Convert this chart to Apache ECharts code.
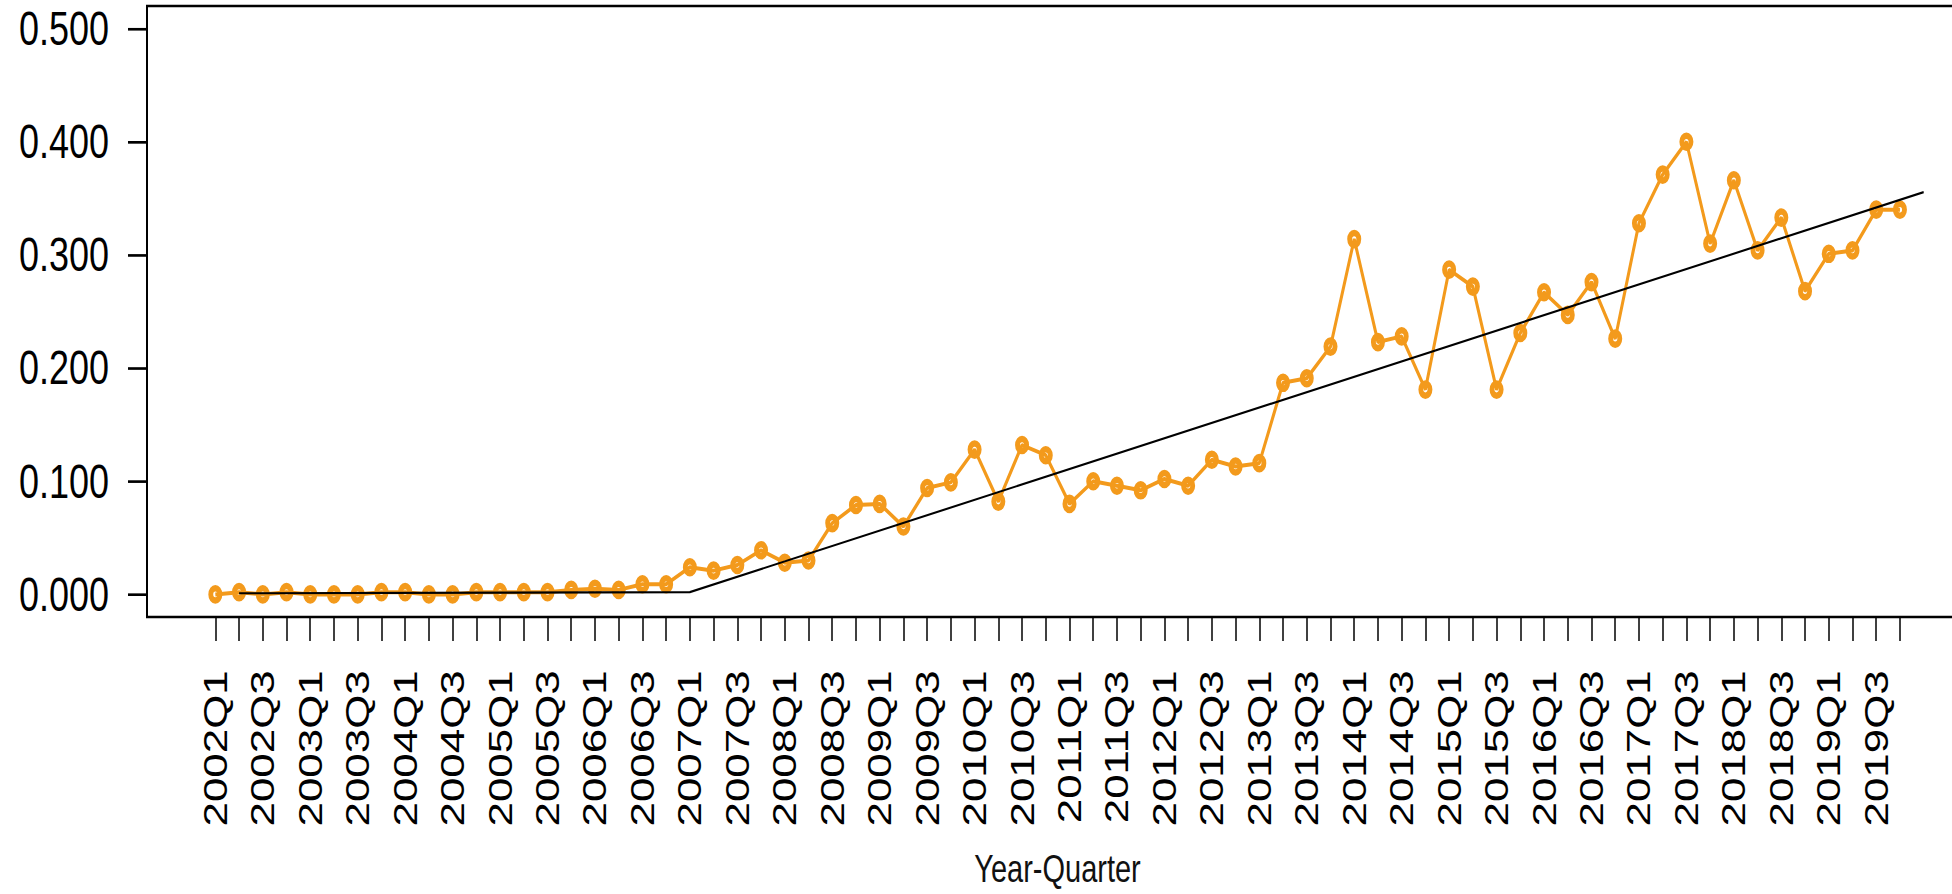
<!DOCTYPE html>
<html>
<head>
<meta charset="utf-8">
<title>Year-Quarter series</title>
<script src="https://cdn.jsdelivr.net/npm/echarts@6/dist/echarts.min.js"></script>
<style>
  html, body { margin: 0; padding: 0; background: #fff; overflow: hidden; }
  /* the plot is laid out on a shorter canvas and stretched vertically */
  #wrap { position: absolute; left: 0; top: 0; width: 1952px; height: 672px;
          transform: scaleY(1.3304); transform-origin: 0 0; }
  #chart { width: 1952px; height: 672px; }
</style>
</head>
<body>
<div id="wrap"><div id="chart"></div></div>
<script>
// Quarter labels, 2002Q1 .. 2019Q4
const quarters = [
  '2002Q1','2002Q2','2002Q3','2002Q4','2003Q1','2003Q2','2003Q3','2003Q4',
  '2004Q1','2004Q2','2004Q3','2004Q4','2005Q1','2005Q2','2005Q3','2005Q4',
  '2006Q1','2006Q2','2006Q3','2006Q4','2007Q1','2007Q2','2007Q3','2007Q4',
  '2008Q1','2008Q2','2008Q3','2008Q4','2009Q1','2009Q2','2009Q3','2009Q4',
  '2010Q1','2010Q2','2010Q3','2010Q4','2011Q1','2011Q2','2011Q3','2011Q4',
  '2012Q1','2012Q2','2012Q3','2012Q4','2013Q1','2013Q2','2013Q3','2013Q4',
  '2014Q1','2014Q2','2014Q3','2014Q4','2015Q1','2015Q2','2015Q3','2015Q4',
  '2016Q1','2016Q2','2016Q3','2016Q4','2017Q1','2017Q2','2017Q3','2017Q4',
  '2018Q1','2018Q2','2018Q3','2018Q4','2019Q1','2019Q2','2019Q3','2019Q4'
];

// Observed quarterly values
const values = [
  0.000, 0.002, 0.000, 0.002, 0.000, 0.000, 0.000, 0.002,
  0.002, 0.000, 0.000, 0.002, 0.002, 0.002, 0.002, 0.004,
  0.005, 0.004, 0.009, 0.009, 0.024, 0.021, 0.026, 0.039,
  0.028, 0.030, 0.063, 0.079, 0.080, 0.060, 0.094, 0.099,
  0.128, 0.082, 0.132, 0.123, 0.080, 0.100, 0.096, 0.092,
  0.102, 0.096, 0.119, 0.113, 0.116, 0.187, 0.191, 0.219,
  0.314, 0.223, 0.228, 0.181, 0.287, 0.272, 0.181, 0.231,
  0.267, 0.247, 0.276, 0.226, 0.328, 0.371, 0.400, 0.310,
  0.366, 0.304, 0.333, 0.268, 0.301, 0.304, 0.340, 0.340
];

// Fitted piecewise trend: breakpoints (quarter index, value)
const trendX = [1, 20, 72];
const trendY = [0.001, 0.002, 0.3555];

// Axis ticks and labels
const yTicks = [0, 0.1, 0.2, 0.3, 0.4, 0.5];
const xTickIdx = quarters.map((q, i) => i);
const xLabelIdx = xTickIdx.filter(i => i % 2 === 0);

const FONT = "'Liberation Sans', Arial, Helvetica, sans-serif";
const ORANGE = '#F39A1C';
// thick ring marker with a small open centre
const RING = 'path://M0,-10A10,10 0 1,1 0,10A10,10 0 1,1 0,-10Z' +
             'M0,-3A3,3 0 1,0 0,3A3,3 0 1,0 0,-3Z';

const chart = echarts.init(document.getElementById('chart'), null, { renderer: 'svg' });

chart.setOption({
  animation: false,
  backgroundColor: '#fff',
  grid: {
    left: 147, top: 4.5, width: 1845, height: 459.3,
    outerBoundsMode: 'none',
    containLabel: false,
    show: true, borderColor: '#000', borderWidth: 2, backgroundColor: 'transparent'
  },
  xAxis: {
    type: 'value',
    min: -2.88, max: 74.88,
    axisLine: { show: false, onZero: false },
    splitLine: { show: false },
    axisTick: {
      show: true, customValues: xTickIdx, length: 18,
      lineStyle: { color: '#000', width: 1.5 }
    },
    axisLabel: {
      customValues: xLabelIdx, rotate: 90, margin: 40,
      fontSize: 33, color: '#000', fontFamily: FONT,
      formatter: v => quarters[v]
    },
    name: 'Year-Quarter',
    nameLocation: 'middle',
    nameGap: 174,
    nameTextStyle: {
      fontSize: 29, lineHeight: 30, color: '#111', fontFamily: FONT,
      padding: [0, 24, 0, 0]
    }
  },
  yAxis: {
    type: 'value',
    min: -0.02, max: 0.52,
    axisLine: { show: false, onZero: false },
    splitLine: { show: false },
    axisTick: {
      show: true, customValues: yTicks, length: 19,
      lineStyle: { color: '#000', width: 2 }
    },
    axisLabel: {
      customValues: yTicks, margin: 38,
      fontSize: 36, color: '#000', fontFamily: FONT,
      formatter: v => v.toFixed(3)
    }
  },
  series: [
    {
      type: 'line',
      data: values.map((v, i) => [i, v]),
      symbol: RING,
      symbolSize: 14,
      lineStyle: { color: ORANGE, width: 3 },
      itemStyle: { color: ORANGE },
      z: 2
    },
    {
      type: 'line',
      data: trendX.map((x, j) => [x, trendY[j]]),
      symbol: 'none',
      lineStyle: { color: '#000', width: 1.6 },
      z: 3
    }
  ]
});
</script>
</body>
</html>
